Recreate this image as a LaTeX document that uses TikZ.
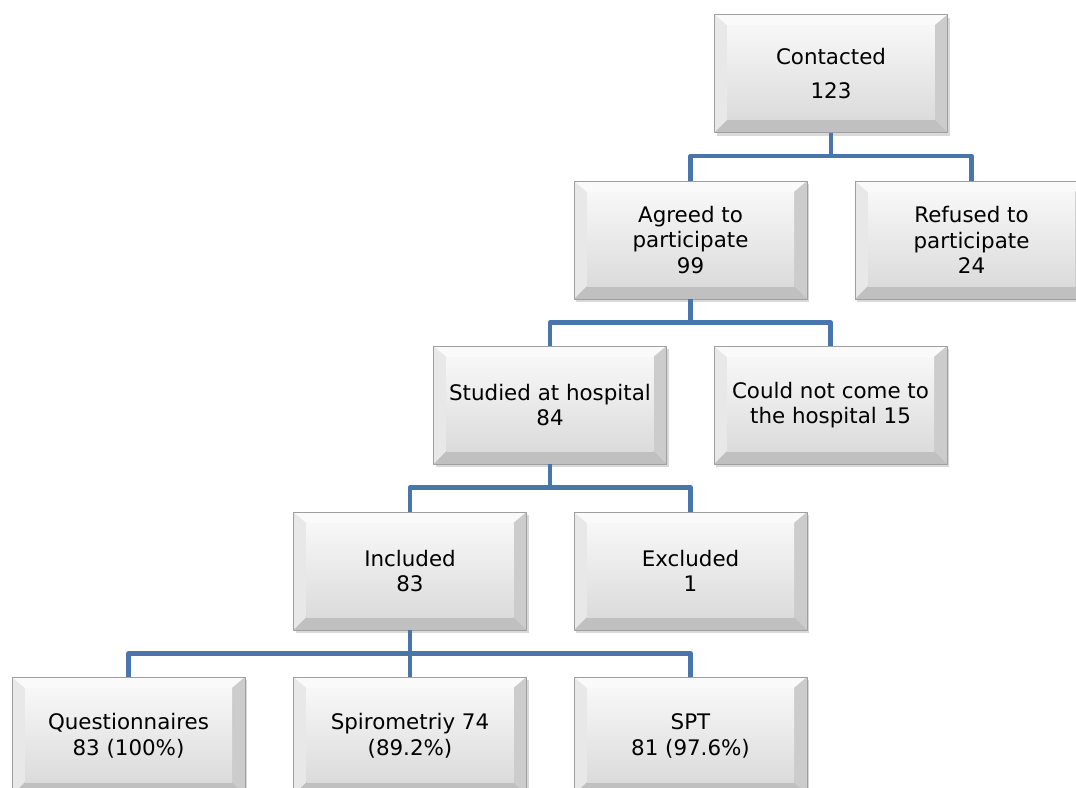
\documentclass[tikz,border=0pt]{standalone}
\usepackage{fontspec}
\setmainfont{DejaVu Sans}
\usetikzlibrary{shadows}
\definecolor{linkblue}{RGB}{72,118,172}
\definecolor{faceleft}{RGB}{232,232,232}
\definecolor{faceright}{RGB}{204,204,204}
\definecolor{facebottom}{RGB}{192,192,192}
\definecolor{facetop}{RGB}{250,250,250}
\newcommand{\pbb}{path picture bounding box}
\begin{document}
\begin{tikzpicture}[x=1pt,y=-1pt,line join=round,font=\fontsize{21.4}{25.5}\selectfont]
	\tikzset{box/.style={draw=gray!75,line width=0.8pt,fill=faceleft,minimum width=233pt,minimum height=118pt,inner sep=0pt,align=center,
		drop shadow={shadow xshift=2pt,shadow yshift=-3pt,opacity=0.3},
		path picture={
			\fill[facetop] (\pbb.north west)--(\pbb.north east)--([xshift=-13pt,yshift=-11pt]\pbb.north east)--([xshift=13pt,yshift=-11pt]\pbb.north west)--cycle;
			\fill[faceright] (\pbb.north east)--(\pbb.south east)--([xshift=-13pt,yshift=13pt]\pbb.south east)--([xshift=-13pt,yshift=-11pt]\pbb.north east)--cycle;
			\fill[facebottom] (\pbb.south west)--(\pbb.south east)--([xshift=-13pt,yshift=13pt]\pbb.south east)--([xshift=13pt,yshift=13pt]\pbb.south west)--cycle;
			\shade[top color=gray!6,bottom color=gray!28] ([xshift=13pt,yshift=-11pt]\pbb.north west) rectangle ([xshift=-13pt,yshift=13pt]\pbb.south east);
		}},
		link/.style={draw=linkblue,line width=4.5pt}}
	\useasboundingbox (0,0) rectangle (1076,787);
	\clip (0,0) rectangle (1076,787);
	% boxes
	\node[box] (contacted) at (831,73.5) {Contacted\\[9pt]123};
	\node[box] (agreed) at (690.5,240) {Agreed to\\participate\\99};
	\node[box] (refused) at (971.5,240) {Refused to\\participate\\24};
	\node[box] (studied) at (550,405) {Studied at hospital\\84};
	\node[box] (notcome) at (830.5,405) {Could not come to\\the hospital 15};
	\node[box] (included) at (410,571) {Included\\83};
	\node[box] (excluded) at (690.5,571) {Excluded\\1};
	\node[box] (quest) at (128.5,736) {Questionnaires\\83 (100\%)};
	\node[box] (spiro) at (410,736) {Spirometriy 74\\(89.2\%)};
	\node[box] (spt) at (690.5,736) {SPT\\81 (97.6\%)};
	% links
	\foreach \a/\b in {contacted/agreed,contacted/refused,agreed/studied,agreed/notcome,studied/included,studied/excluded,included/quest,included/spiro,included/spt}
	\draw[link] (\a.south) -- ++(0,23) -| (\b.north);
\end{tikzpicture}
\end{document}
